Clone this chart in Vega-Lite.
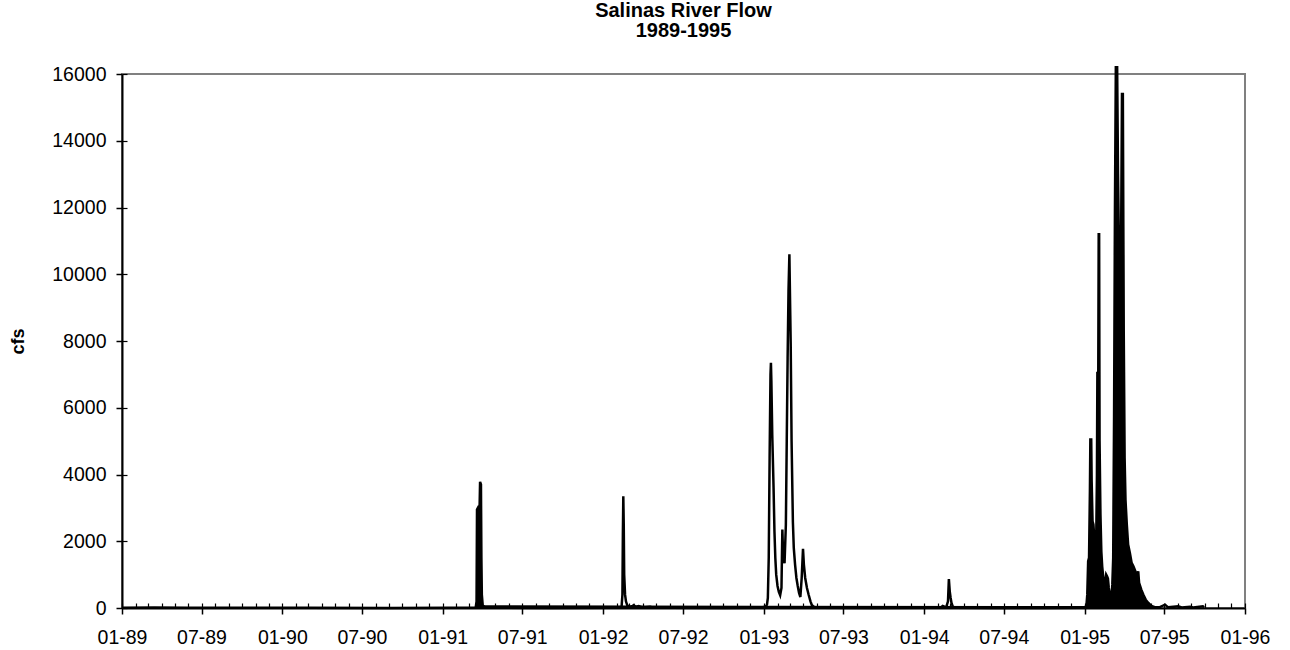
{
  "$schema": "https://vega.github.io/schema/vega-lite/v6.json",
  "width": 1123,
  "height": 534,
  "autosize": "none",
  "padding": {"left": 122, "top": 74, "right": 45, "bottom": 42},
  "background": "white",
  "config": {"view": {"stroke": "#808080", "strokeWidth": 2}, "font": "Liberation Sans"},
  "title": {"text": ["Salinas River Flow", "1989-1995"], "fontSize": 20, "fontWeight": "bold", "font": "Liberation Sans", "color": "black", "anchor": "middle", "offset": 21, "lineHeight": 20},
  "data": {"values": [
    {"date": "1989-01-01", "cfs": 10}, {"date": "1989-03-15", "cfs": 15}, {"date": "1989-06-01", "cfs": 5}, {"date": "1989-12-01", "cfs": 5},
    {"date": "1990-03-01", "cfs": 10}, {"date": "1990-09-01", "cfs": 2},
    {"date": "1991-01-15", "cfs": 5}, {"date": "1991-03-17", "cfs": 10}, {"date": "1991-03-19", "cfs": 200}, {"date": "1991-03-20", "cfs": 2950},
    {"date": "1991-03-22", "cfs": 3000}, {"date": "1991-03-24", "cfs": 2950}, {"date": "1991-03-26", "cfs": 3100}, {"date": "1991-03-27", "cfs": 3780},
    {"date": "1991-03-29", "cfs": 3700}, {"date": "1991-03-30", "cfs": 1500}, {"date": "1991-03-31", "cfs": 400}, {"date": "1991-04-02", "cfs": 80},
    {"date": "1991-04-06", "cfs": 30}, {"date": "1991-05-01", "cfs": 10}, {"date": "1991-09-01", "cfs": 2},
    {"date": "1992-01-15", "cfs": 5}, {"date": "1992-02-12", "cfs": 20}, {"date": "1992-02-14", "cfs": 400}, {"date": "1992-02-15", "cfs": 2200},
    {"date": "1992-02-16", "cfs": 3350}, {"date": "1992-02-17", "cfs": 2500}, {"date": "1992-02-18", "cfs": 1000}, {"date": "1992-02-20", "cfs": 400},
    {"date": "1992-02-22", "cfs": 200}, {"date": "1992-02-25", "cfs": 80}, {"date": "1992-03-01", "cfs": 30}, {"date": "1992-03-08", "cfs": 60},
    {"date": "1992-03-11", "cfs": 90}, {"date": "1992-03-14", "cfs": 30}, {"date": "1992-03-22", "cfs": 60}, {"date": "1992-03-26", "cfs": 40},
    {"date": "1992-04-01", "cfs": 15}, {"date": "1992-04-17", "cfs": 35}, {"date": "1992-04-25", "cfs": 10}, {"date": "1992-06-01", "cfs": 5},
    {"date": "1992-10-01", "cfs": 2}, {"date": "1992-12-20", "cfs": 10},
    {"date": "1993-01-05", "cfs": 40}, {"date": "1993-01-08", "cfs": 100}, {"date": "1993-01-10", "cfs": 300}, {"date": "1993-01-12", "cfs": 1500},
    {"date": "1993-01-14", "cfs": 4500}, {"date": "1993-01-16", "cfs": 7000}, {"date": "1993-01-17", "cfs": 7350}, {"date": "1993-01-18", "cfs": 6800},
    {"date": "1993-01-20", "cfs": 5200}, {"date": "1993-01-23", "cfs": 3600}, {"date": "1993-01-25", "cfs": 2300}, {"date": "1993-01-27", "cfs": 1500},
    {"date": "1993-01-29", "cfs": 1000}, {"date": "1993-02-01", "cfs": 660}, {"date": "1993-02-04", "cfs": 480}, {"date": "1993-02-07", "cfs": 380},
    {"date": "1993-02-10", "cfs": 600}, {"date": "1993-02-11", "cfs": 1500}, {"date": "1993-02-12", "cfs": 2350}, {"date": "1993-02-14", "cfs": 1500},
    {"date": "1993-02-17", "cfs": 1340}, {"date": "1993-02-20", "cfs": 2500}, {"date": "1993-02-22", "cfs": 5000}, {"date": "1993-02-24", "cfs": 7500},
    {"date": "1993-02-26", "cfs": 9500}, {"date": "1993-02-28", "cfs": 10600}, {"date": "1993-03-02", "cfs": 8800}, {"date": "1993-03-03", "cfs": 7900},
    {"date": "1993-03-05", "cfs": 5000}, {"date": "1993-03-08", "cfs": 2570}, {"date": "1993-03-10", "cfs": 1800}, {"date": "1993-03-13", "cfs": 1290},
    {"date": "1993-03-16", "cfs": 900}, {"date": "1993-03-19", "cfs": 660}, {"date": "1993-03-22", "cfs": 450}, {"date": "1993-03-25", "cfs": 330},
    {"date": "1993-03-28", "cfs": 900}, {"date": "1993-03-31", "cfs": 1770}, {"date": "1993-04-02", "cfs": 1300}, {"date": "1993-04-05", "cfs": 900},
    {"date": "1993-04-09", "cfs": 600}, {"date": "1993-04-13", "cfs": 390}, {"date": "1993-04-17", "cfs": 200}, {"date": "1993-04-20", "cfs": 90},
    {"date": "1993-04-24", "cfs": 40}, {"date": "1993-04-28", "cfs": 15}, {"date": "1993-05-10", "cfs": 5}, {"date": "1993-09-01", "cfs": 2},
    {"date": "1994-01-15", "cfs": 5}, {"date": "1994-02-08", "cfs": 15}, {"date": "1994-02-12", "cfs": 60}, {"date": "1994-02-16", "cfs": 40},
    {"date": "1994-02-20", "cfs": 30}, {"date": "1994-02-24", "cfs": 200}, {"date": "1994-02-26", "cfs": 870}, {"date": "1994-02-28", "cfs": 500},
    {"date": "1994-03-02", "cfs": 300}, {"date": "1994-03-04", "cfs": 150}, {"date": "1994-03-07", "cfs": 40}, {"date": "1994-03-12", "cfs": 10},
    {"date": "1994-06-01", "cfs": 3}, {"date": "1994-10-01", "cfs": 2}, {"date": "1994-12-20", "cfs": 10},
    {"date": "1995-01-01", "cfs": 20}, {"date": "1995-01-05", "cfs": 60}, {"date": "1995-01-07", "cfs": 400}, {"date": "1995-01-09", "cfs": 1400},
    {"date": "1995-01-11", "cfs": 1500}, {"date": "1995-01-13", "cfs": 3500}, {"date": "1995-01-14", "cfs": 5050}, {"date": "1995-01-16", "cfs": 5050},
    {"date": "1995-01-17", "cfs": 3800}, {"date": "1995-01-19", "cfs": 2600}, {"date": "1995-01-21", "cfs": 2500}, {"date": "1995-01-23", "cfs": 2100},
    {"date": "1995-01-25", "cfs": 1700}, {"date": "1995-01-27", "cfs": 1600}, {"date": "1995-01-29", "cfs": 4000}, {"date": "1995-01-30", "cfs": 7080},
    {"date": "1995-02-01", "cfs": 7000}, {"date": "1995-02-02", "cfs": 11200}, {"date": "1995-02-03", "cfs": 11200}, {"date": "1995-02-04", "cfs": 5000},
    {"date": "1995-02-06", "cfs": 2800}, {"date": "1995-02-08", "cfs": 1700}, {"date": "1995-02-10", "cfs": 1240}, {"date": "1995-02-13", "cfs": 840},
    {"date": "1995-02-16", "cfs": 700}, {"date": "1995-02-19", "cfs": 1000}, {"date": "1995-02-21", "cfs": 950}, {"date": "1995-02-23", "cfs": 880},
    {"date": "1995-02-25", "cfs": 600}, {"date": "1995-02-27", "cfs": 450}, {"date": "1995-03-01", "cfs": 400}, {"date": "1995-03-03", "cfs": 300},
    {"date": "1995-03-05", "cfs": 700}, {"date": "1995-03-07", "cfs": 1500}, {"date": "1995-03-09", "cfs": 5750}, {"date": "1995-03-11", "cfs": 12000},
    {"date": "1995-03-13", "cfs": 16200}, {"date": "1995-03-16", "cfs": 16200}, {"date": "1995-03-18", "cfs": 13000}, {"date": "1995-03-20", "cfs": 10900},
    {"date": "1995-03-23", "cfs": 10900}, {"date": "1995-03-25", "cfs": 11000}, {"date": "1995-03-27", "cfs": 15400}, {"date": "1995-03-29", "cfs": 15400},
    {"date": "1995-03-31", "cfs": 8300}, {"date": "1995-04-02", "cfs": 4500}, {"date": "1995-04-04", "cfs": 3240}, {"date": "1995-04-07", "cfs": 2500},
    {"date": "1995-04-10", "cfs": 1900}, {"date": "1995-04-14", "cfs": 1650}, {"date": "1995-04-18", "cfs": 1350}, {"date": "1995-04-22", "cfs": 1250},
    {"date": "1995-04-28", "cfs": 1050}, {"date": "1995-05-01", "cfs": 900}, {"date": "1995-05-03", "cfs": 1100}, {"date": "1995-05-05", "cfs": 750},
    {"date": "1995-05-10", "cfs": 550}, {"date": "1995-05-15", "cfs": 390}, {"date": "1995-05-20", "cfs": 250}, {"date": "1995-05-26", "cfs": 150},
    {"date": "1995-06-02", "cfs": 60}, {"date": "1995-06-10", "cfs": 25}, {"date": "1995-06-20", "cfs": 20}, {"date": "1995-07-03", "cfs": 100},
    {"date": "1995-07-10", "cfs": 20}, {"date": "1995-08-02", "cfs": 50}, {"date": "1995-08-10", "cfs": 15}, {"date": "1995-08-29", "cfs": 40},
    {"date": "1995-09-05", "cfs": 15}, {"date": "1995-09-27", "cfs": 50}, {"date": "1995-09-30", "cfs": 20}
  ]},
  "layer": [
    {
      "transform": [{"filter": {"or": [
        {"field": "date", "range": [{"year": 1991, "month": 3, "date": 17}, {"year": 1991, "month": 4, "date": 3}]},
        {"field": "date", "range": [{"year": 1995, "month": 1, "date": 4}, {"year": 1995, "month": 6, "date": 11}]}
      ]}}],
      "mark": {"type": "area", "color": "black", "interpolate": "linear"},
      "encoding": {
        "x": {"field": "date", "type": "temporal",
          "scale": {"domain": [{"year": 1989, "month": 1, "date": 1}, {"year": 1996, "month": 1, "date": 1}]},
          "axis": {"orient": "bottom", "tickCount": {"interval": "month", "step": 1}, "labels": false, "domain": false, "tickSize": -5, "tickColor": "black", "tickWidth": 1.2, "grid": false, "title": null}},
        "y": {"field": "cfs", "type": "quantitative", "scale": {"domain": [0, 16000], "nice": false},
          "axis": {"orient": "left", "values": [0, 2000, 4000, 6000, 8000, 10000, 12000, 14000, 16000], "labels": false, "domain": false, "tickSize": -5, "tickColor": "black", "tickWidth": 1.2, "grid": false, "title": null}}
      }
    },
    {
      "mark": {"type": "line", "color": "black", "strokeWidth": 2.5},
      "encoding": {
        "x": {"field": "date", "type": "temporal",
          "scale": {"domain": [{"year": 1989, "month": 1, "date": 1}, {"year": 1996, "month": 1, "date": 1}]},
          "axis": {"orient": "bottom", "title": null, "format": "%m-%y", "grid": false,
            "values": [{"year": 1989, "month": 1, "date": 1}, {"year": 1989, "month": 7, "date": 1}, {"year": 1990, "month": 1, "date": 1}, {"year": 1990, "month": 7, "date": 1},
                       {"year": 1991, "month": 1, "date": 1}, {"year": 1991, "month": 7, "date": 1}, {"year": 1992, "month": 1, "date": 1}, {"year": 1992, "month": 7, "date": 1},
                       {"year": 1993, "month": 1, "date": 1}, {"year": 1993, "month": 7, "date": 1}, {"year": 1994, "month": 1, "date": 1}, {"year": 1994, "month": 7, "date": 1},
                       {"year": 1995, "month": 1, "date": 1}, {"year": 1995, "month": 7, "date": 1}, {"year": 1996, "month": 1, "date": 1}],
            "labelFontSize": 19.5, "labelFont": "Liberation Sans", "labelColor": "black", "labelPadding": 14, "labelFlush": false, "labelOverlap": false,
            "tickSize": 6, "tickColor": "black", "tickWidth": 1.5, "domainColor": "black", "domainWidth": 2}},
        "y": {"field": "cfs", "type": "quantitative", "scale": {"domain": [0, 16000], "nice": false},
          "axis": {"orient": "left", "values": [0, 2000, 4000, 6000, 8000, 10000, 12000, 14000, 16000], "format": "d", "grid": false,
            "labelFontSize": 19.5, "labelFont": "Liberation Sans", "labelColor": "black", "labelPadding": 10,
            "tickSize": 6, "tickColor": "black", "tickWidth": 1.5, "domainColor": "black", "domainWidth": 2,
            "title": "cfs", "titleFontSize": 18, "titleFont": "Liberation Sans", "titleFontWeight": "bold", "titleColor": "black",
            "titleX": -104, "titleY": 267, "titleAngle": -90, "titleBaseline": "middle", "titleAlign": "center"}}
      }
    }
  ],
  "resolve": {"axis": {"x": "independent", "y": "independent"}}
}
